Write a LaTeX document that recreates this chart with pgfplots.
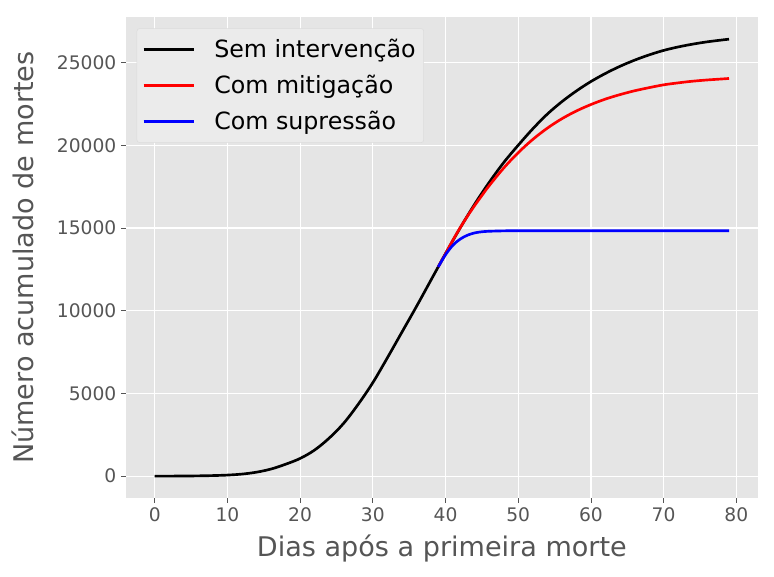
\documentclass[border=0pt]{standalone}
\usepackage{fontspec}
\setmainfont{DejaVu Sans}
\usepackage{pgfplots}
\pgfplotsset{compat=1.18}

\definecolor{ggbg}{HTML}{E5E5E5}
\definecolor{ggtext}{HTML}{555555}
\definecolor{legbg}{HTML}{EBEBEB}
\definecolor{legedge}{HTML}{DCDCDC}
\definecolor{cblack}{HTML}{000000}
\definecolor{cred}{HTML}{FF0000}
\definecolor{cblue}{HTML}{0000FF}

\begin{document}
\begin{tikzpicture}
% 1 px of the reference = 0.75pt
\path[use as bounding box] (0,0) rectangle (580.5pt,432.75pt);

\begin{axis}[
  at={(94.5pt,59.25pt)},
  anchor=south west,
  scale only axis,
  width=473.8pt,
  height=360.5pt,
  xmin=-3.95, xmax=82.95,
  ymin=-1320, ymax=27731,
  xtick={0,10,...,80},
  ytick={0,5000,...,25000},
  scaled y ticks=false,
  /pgf/number format/.cd, 1000 sep={}, assume math mode=true,
  /pgfplots/.cd,
  axis background/.style={fill=ggbg},
  axis line style={draw=none},
  grid=major,
  major grid style={white, line width=0.9pt},
  tick pos=left,
  tick align=outside,
  major tick length=3.75pt,
  tick style={ggtext, line width=0.6pt},
  ticklabel style={font=\fontsize{14}{16}\selectfont, text=ggtext},
  xlabel={Dias após a primeira morte},
  ylabel={Número acumulado de mortes},
  label style={font=\fontsize{20.3}{24}\selectfont, text=ggtext},
  xlabel style={at={(axis description cs:0.5,-0.1227)}, anchor=base},
  ylabel style={at={(axis description cs:-0.1472,0.5)}, anchor=base},
  legend cell align=left,
  legend image code/.code={\draw[#1] (0pt,0pt) -- (38pt,0pt);},
  legend style={
    at={(0.0169,0.9771)}, anchor=north west,
    fill=legbg, draw=legedge, rounded corners=2pt,
    font=\fontsize{17.8}{20}\selectfont,
    inner xsep=4pt, inner ysep=6pt,
    row sep=7.75pt,
    /tikz/every odd column/.append style={column sep=12pt},
  },
  every axis plot/.append style={line width=2pt, smooth, tension=0.55},
]

\addplot[cblack] coordinates {
  (0,0) (2,3) (4,8) (6,18) (8,35) (10,65) (12,125) (14,240) (16,430)
  (18,720) (20,1070) (22,1580) (24,2300) (26,3200) (28,4350) (30,5650)
  (32,7150) (34,8700) (36,10250) (38,11850) (39,12650) (40,13450)
  (42,14990) (44,16430) (46,17750) (48,18950) (50,20000) (52,20990)
  (54,21880) (56,22630) (58,23280) (60,23850) (62,24340) (64,24770)
  (66,25140) (68,25460) (70,25730) (72,25940) (74,26110) (76,26250)
  (78,26360) (79,26410)
};
\addlegendentry{Sem intervenção}

\addplot[cred] coordinates {
  (39,12650) (40,13440) (41,14250) (42,15000) (43,15700) (44,16350)
  (45,16960) (46,17550) (48,18620) (50,19550) (52,20350) (54,21030)
  (56,21600) (58,22070) (60,22460) (62,22790) (64,23060) (66,23290)
  (68,23480) (70,23650) (72,23770) (74,23870) (76,23945) (78,24005)
  (79,24035)
};
\addlegendentry{Com mitigação}

\addplot[cblue] coordinates {
  (39,12650) (40,13380) (41,13950) (42,14320) (43,14560) (44,14700)
  (45,14770) (46,14800) (48,14825) (50,14830) (60,14835) (79,14835)
};
\addlegendentry{Com supressão}

\end{axis}
\end{tikzpicture}
\end{document}
